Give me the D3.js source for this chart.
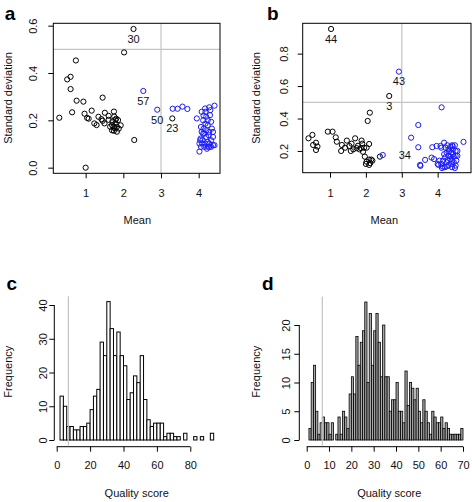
<!DOCTYPE html>
<html><head><meta charset="utf-8">
<script src="https://cdn.jsdelivr.net/npm/d3@7"></script>
<style>
body{margin:0;background:#fff}
svg{display:block}
text{font-family:"Liberation Sans",Arial,Helvetica,sans-serif;fill:#111}
</style>
</head><body>
<svg id="chart" width="472" height="502"></svg>
<script>
// ---------- Panel a data ----------
const aBlackMean = [2.27,2.02,0.74,0.60,0.51,0.60,1.45,0.76,0.94,0.30,0.64,0.97,1.16,1.04,1.08,1.34,1.23,1.29,1.42,1.51,1.61,1.45,1.50,1.61,1.75,1.76,1.79,1.71,1.65,1.74,1.83,1.79,1.86,1.93,1.75,1.83,1.88,1.77,1.70,2.29,1.00,1.70,1.81,3.30];
const aBlackSD   = [0.586,0.487,0.453,0.384,0.373,0.332,0.296,0.283,0.279,0.211,0.234,0.228,0.241,0.210,0.207,0.215,0.187,0.180,0.205,0.232,0.219,0.198,0.187,0.202,0.237,0.216,0.202,0.195,0.173,0.173,0.173,0.187,0.201,0.179,0.156,0.152,0.165,0.166,0.180,0.117,0.000,0.158,0.207,0.208];
const aBlueMean  = [2.53,2.90,3.31,3.44,3.57,3.70,3.95,4.08,4.17,4.28,4.42,4.06,4.12,4.20,4.30,4.33,4.02,4.06,4.10,4.15,4.38,4.38,4.28,4.24,4.20,4.28,4.13,4.24,4.18,4.08,4.09,4.18,4.28,4.02,4.05,4.20,4.33,4.15,4.24,4.33,4.42,4.27,4.13,4.24,4.18,4.31,4.04,4.12,4.35,4.22,4.38];
const aBlueSD    = [0.324,0.245,0.249,0.249,0.258,0.248,0.208,0.236,0.250,0.255,0.262,0.172,0.200,0.215,0.222,0.194,0.068,0.088,0.116,0.144,0.130,0.095,0.088,0.109,0.158,0.151,0.165,0.179,0.186,0.151,0.102,0.102,0.102,0.102,0.123,0.130,0.116,0.088,0.088,0.088,0.095,0.137,0.220,0.200,0.236,0.243,0.116,0.144,0.165,0.080,0.151];
const aLabelText = ["30","57","50","23"];
const aLabelMean = [2.27,2.53,2.90,3.30];
const aLabelSD   = [0.586,0.324,0.245,0.208];
const aXTicks = [1,2,3,4];
const aYTicks = [0.0,0.2,0.4,0.6];

// ---------- Panel b data ----------
const bBlackMean = [1.03,0.40,0.51,0.53,0.61,0.65,0.61,0.94,1.07,1.16,1.19,1.33,1.31,1.47,1.42,1.54,1.58,1.60,1.70,1.74,1.78,1.88,1.86,1.95,2.02,1.92,2.09,1.97,2.05,2.11,2.02,2.09,2.15,2.09,2.18,2.39,2.65,1.65,1.82,1.90,2.12,2.00];
const bBlackSD   = [0.952,0.278,0.299,0.237,0.251,0.227,0.206,0.319,0.319,0.284,0.257,0.237,0.200,0.264,0.220,0.231,0.200,0.245,0.278,0.218,0.232,0.264,0.218,0.220,0.220,0.195,0.243,0.165,0.385,0.436,0.134,0.147,0.147,0.114,0.140,0.165,0.539,0.210,0.210,0.245,0.125,0.120];
const bBlueMean  = [2.47,2.92,4.11,3.46,3.26,3.46,3.51,3.52,3.65,3.83,3.90,3.85,3.97,4.08,4.02,4.14,4.18,4.72,4.22,4.30,4.35,4.42,4.48,4.55,4.50,4.43,4.38,4.30,4.25,4.20,4.15,4.10,4.00,4.05,4.25,4.35,4.45,4.50,4.52,4.40,4.30,4.20,4.12,4.48,4.38,4.28,4.32,4.42,4.50,4.18,4.10,4.27,4.36,4.45,4.55,4.40,4.25,4.40];
const bBlueSD    = [0.175,0.689,0.469,0.360,0.282,0.223,0.114,0.108,0.145,0.159,0.150,0.223,0.231,0.231,0.114,0.104,0.251,0.256,0.22,0.21,0.225,0.23,0.235,0.20,0.17,0.18,0.19,0.17,0.19,0.16,0.14,0.12,0.12,0.14,0.13,0.15,0.13,0.11,0.14,0.10,0.11,0.10,0.095,0.095,0.12,0.145,0.20,0.21,0.20,0.18,0.22,0.235,0.165,0.165,0.17,0.14,0.105,0.235];
const bLabelText = ["44","43","3","34"];
const bLabelMean = [1.03,2.92,2.65,2.47];
const bLabelSD   = [0.952,0.689,0.539,0.175];
const bLabelPos  = ["below","below","below","right"];
const bXTicks = [1,2,3,4];
const bYTicks = [0.2,0.4,0.6,0.8];

// ---------- Panel c data (bin width 2) ----------
const cBinStart = [2,4,6,8,10,12,14,16,18,20,22,24,26,28,30,32,34,36,38,40,42,44,46,48,50,52,54,56,58,60,62,64,66,68,70,72,74,76,78,80,82,84,86,88,90,92];
const cCounts   = [13,10,4,4,3,3,4,4,5,9,13,15,29,25,41,33,25,32,25,22,12,14,19,17,25,12,6,4,5,5,5,1,2,2,1,1,0,2,0,0,1,0,1,0,0,2];
const cXTicks = [0,20,40,60,80];
const cYTicks = [0,10,20,30,40];

// ---------- Panel d data (bin width 1) ----------
const dBinStart = [1,2,3,4,5,6,7,8,9,10,11,12,13,14,15,16,17,18,19,20,21,22,23,24,25,26,27,28,29,30,31,32,33,34,35,36,37,38,39,40,41,42,43,44,45,46,47,48,49,50,51,52,53,54,55,56,57,58,59,60,61,62,63,64,65,66,67,68,69];
const dCounts   = [2,10,13,5,1,3,4,3,3,1,3,0,1,4,1,5,4,2,8,11,8,18,13,17,19,24,10,22,13,19,22,17,11,20,11,11,5,7,7,10,5,5,3,12,6,10,9,7,9,5,3,7,5,3,1,5,4,3,3,4,2,3,2,1,1,1,1,1,2];
const dXTicks = [0,10,20,30,40,50,60,70];
const dYTicks = [0,5,10,15,20];

const cutoffMean = 3, cutoffSD = 0.5, cutoffScore = 7;

const svg = d3.select("#chart");
const FS = 11;
const GRAY = "#c4c4c4";

function panelLetter(t, x, y) {
  svg.append("text").attr("x", x).attr("y", y).attr("dy", "0.35em")
    .attr("text-anchor", "middle").style("font-size", "19px").style("font-weight", "bold")
    .style("fill", "#000").text(t);
}

function styleYTicks(g, off) {
  g.selectAll(".tick text")
    .attr("x", null).attr("y", 0).attr("dy", "0.35em")
    .attr("text-anchor", "middle")
    .attr("transform", `translate(${-off},0) rotate(-90)`)
    .style("font-size", FS + "px");
  g.selectAll(".tick line").attr("stroke", "#000");
}
function styleXTicks(g, off) {
  g.selectAll(".tick text").attr("y", off).attr("dy", "0.35em").style("font-size", FS + "px");
  g.selectAll(".tick line").attr("stroke", "#000");
}

function scatter(o) {
  const x = d3.scaleLinear().domain(o.xDom).range([o.L, o.R]);
  const y = d3.scaleLinear().domain(o.yDom).range([o.B, o.T]);
  const g = svg.append("g");
  g.append("line").attr("x1", o.L).attr("x2", o.R).attr("y1", y(cutoffSD)).attr("y2", y(cutoffSD))
    .attr("stroke", GRAY).attr("stroke-width", 1.2);
  g.append("line").attr("x1", x(cutoffMean)).attr("x2", x(cutoffMean)).attr("y1", o.T).attr("y2", o.B)
    .attr("stroke", GRAY).attr("stroke-width", 1.2);
  const gx = g.append("g").attr("transform", `translate(0,${o.B})`)
    .call(d3.axisBottom(x).tickValues(o.xTicks).tickFormat(d3.format("d")).tickSize(5));
  gx.select(".domain").remove();
  styleXTicks(gx, o.xLabOff);
  const gy = g.append("g").attr("transform", `translate(${o.L},0)`)
    .call(d3.axisLeft(y).tickValues(o.yTicks).tickFormat(d3.format(".1f")).tickSize(5));
  gy.select(".domain").remove();
  styleYTicks(gy, o.yLabOff);
  g.append("rect").attr("x", o.L).attr("y", o.T).attr("width", o.R - o.L).attr("height", o.B - o.T)
    .attr("fill", "none").attr("stroke", "#000").attr("stroke-width", 1);
  const black = o.blackMean.map((m, i) => [m, o.blackSD[i]]);
  const blue = o.blueMean.map((m, i) => [m, o.blueSD[i]]);
  g.selectAll(".pk").data(black).enter().append("circle")
    .attr("cx", d => x(d[0])).attr("cy", d => y(d[1])).attr("r", 2.6)
    .attr("fill", "none").attr("stroke", "#000").attr("stroke-width", 1);
  g.selectAll(".pb").data(blue).enter().append("circle")
    .attr("cx", d => x(d[0])).attr("cy", d => y(d[1])).attr("r", 2.6)
    .attr("fill", "none").attr("stroke", "#1a1aff").attr("stroke-width", 1);
  o.labText.forEach((t, i) => {
    const right = o.labPos && o.labPos[i] === "right";
    g.append("text")
      .attr("x", x(o.labMean[i]) + (right ? 16 : 0))
      .attr("y", y(o.labSD[i]) + (right ? 0 : 10))
      .attr("dy", "0.35em").attr("text-anchor", right ? "start" : "middle")
      .style("font-size", FS + "px").text(t);
  });
  svg.append("text").attr("x", o.xTitleX).attr("y", 220).attr("dy", "0.35em")
    .attr("text-anchor", "middle").style("font-size", FS + "px").text("Mean");
  svg.append("text").attr("transform", `translate(${o.yTitleX},98) rotate(-90)`).attr("dy", "0.35em")
    .attr("text-anchor", "middle").style("font-size", FS + "px").text("Standard deviation");
}

function hist(o) {
  const x = d3.scaleLinear().domain([o.xTicks[0], o.xTicks[o.xTicks.length - 1]]).range(o.xRange);
  const y = d3.scaleLinear().domain([o.yTicks[0], o.yTicks[o.yTicks.length - 1]]).range(o.yRange);
  const g = svg.append("g");
  const bins = o.start.map((s, i) => ({ x0: s, x1: s + o.width, n: o.counts[i] }));
  g.selectAll("rect.bar").data(bins).enter().append("rect")
    .attr("x", d => x(d.x0)).attr("width", d => x(d.x1) - x(d.x0))
    .attr("y", d => y(d.n)).attr("height", d => y(0) - y(d.n))
    .attr("fill", o.fill).attr("stroke", "#000").attr("stroke-width", o.sw);
  g.append("line").attr("x1", x(cutoffScore)).attr("x2", x(cutoffScore))
    .attr("y1", o.plotTop).attr("y2", o.plotBottom).attr("stroke", GRAY).attr("stroke-width", 1.2);
  const gx = g.append("g").attr("transform", `translate(0,${o.xAxisY})`)
    .call(d3.axisBottom(x).tickValues(o.xTicks).tickSize(5).tickSizeOuter(0));
  gx.select(".domain").attr("d", `M${x(o.xTicks[0])},0H${x(o.xTicks[o.xTicks.length - 1])}`).attr("stroke", "#000");
  styleXTicks(gx, 18.3);
  const gy = g.append("g").attr("transform", `translate(${o.yAxisX},0)`)
    .call(d3.axisLeft(y).tickValues(o.yTicks).tickSize(5).tickSizeOuter(0));
  gy.select(".domain").attr("d", `M0,${y(o.yTicks[0])}V${y(o.yTicks[o.yTicks.length - 1])}`).attr("stroke", "#000");
  styleYTicks(gy, o.yLabOff);
  svg.append("text").attr("x", o.xTitleX).attr("y", 492.7).attr("dy", "0.35em")
    .attr("text-anchor", "middle").style("font-size", FS + "px").text("Quality score");
  svg.append("text").attr("transform", `translate(${o.yTitleX},371.7) rotate(-90)`).attr("dy", "0.35em")
    .attr("text-anchor", "middle").style("font-size", FS + "px").text("Frequency");
}

scatter({
  L: 53.3, R: 220, T: 23.3, B: 173.3,
  xDom: [0.141, 4.566], yDom: [-0.0238, 0.61],
  xTicks: aXTicks, yTicks: aYTicks, xLabOff: 19.7, yLabOff: 20.3,
  blackMean: aBlackMean, blackSD: aBlackSD, blueMean: aBlueMean, blueSD: aBlueSD,
  labText: aLabelText, labMean: aLabelMean, labSD: aLabelSD,
  xTitleX: 137.3, yTitleX: 8
});
scatter({
  L: 302.7, R: 471, T: 23.3, B: 172.7,
  xDom: [0.239, 4.929], yDom: [0.066, 0.987],
  xTicks: bXTicks, yTicks: bYTicks, xLabOff: 20.6, yLabOff: 18.2,
  blackMean: bBlackMean, blackSD: bBlackSD, blueMean: bBlueMean, blueSD: bBlueSD,
  labText: bLabelText, labMean: bLabelMean, labSD: bLabelSD, labPos: bLabelPos,
  xTitleX: 384.3, yTitleX: 256
});
hist({
  start: cBinStart, counts: cCounts, width: 2, xTicks: cXTicks, yTicks: cYTicks,
  xRange: [56.7, 190.3], yRange: [440, 305], xAxisY: 446.7, yAxisX: 54.3, yLabOff: 11.3,
  plotTop: 296.3, plotBottom: 445.5, fill: "#fff", sw: 1,
  xTitleX: 136.7, yTitleX: 8
});
hist({
  start: dBinStart, counts: dCounts, width: 1, xTicks: dXTicks, yTicks: dYTicks,
  xRange: [306.7, 463], yRange: [440, 325], xAxisY: 446.7, yAxisX: 299.3, yLabOff: 13,
  plotTop: 296.5, plotBottom: 445.5, fill: "#a8a8a8", sw: 0.8,
  xTitleX: 389.3, yTitleX: 256
});

panelLetter("a", 10, 13);
panelLetter("b", 272.7, 13);
panelLetter("c", 11.7, 283.3);
panelLetter("d", 267.7, 283.3);
</script>
</body></html>
